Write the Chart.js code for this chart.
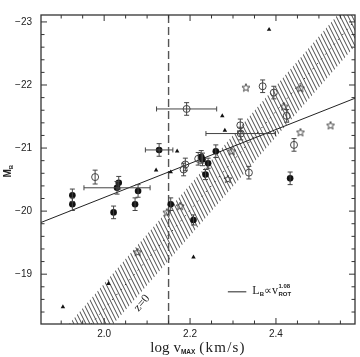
<!DOCTYPE html>
<html>
<head>
<meta charset="utf-8">
<script src="https://cdn.jsdelivr.net/npm/chart.js@4.4.1/dist/chart.umd.min.js"></script>
<style>
  html, body { margin: 0; padding: 0; background: #fff; }
  #wrap { width: 360px; height: 357px; }
</style>
</head>
<body>
<div id="wrap"><canvas id="c"></canvas></div>
<script>
// filled circles (with error bars)
const filledX = [1.926, 1.926, 2.022, 2.034, 2.030, 2.079, 2.072, 2.128, 2.155, 2.208, 2.226, 2.229, 2.242, 2.236, 2.260, 2.433];
const filledY = [-20.25, -20.11, -19.98, -20.45, -20.37, -20.32, -20.11, -20.97, -20.11, -19.86, -20.86, -20.82, -20.76, -20.58, -20.95, -20.52];
const filledYErr = [0.10, 0.10, 0.10, 0.10, 0.10, 0.10, 0.10, 0.10, 0.10, 0.08, 0.10, 0.10, 0.08, 0.08, 0.10, 0.10];
const filledXErr = [0, 0, 0, 0, 0.077, 0, 0, 0.032, 0, 0, 0, 0, 0, 0, 0, 0];

// open circles (with error bars)
const openX = [1.979, 2.189, 2.185, 2.219, 2.317, 2.318, 2.337, 2.442, 2.369, 2.395, 2.425, 2.192];
const openY = [-20.54, -20.74, -20.66, -20.83, -21.36, -21.23, -20.61, -21.05, -21.98, -21.88, -21.51, -21.62];
const openYErr = [0.11, 0.10, 0.10, 0.10, 0.10, 0.10, 0.10, 0.10, 0.10, 0.10, 0.10, 0.10];
const openXErr = [0, 0, 0, 0, 0, 0.081, 0, 0, 0, 0, 0, 0.07];

// small triangles
const triX = [1.904, 2.010, 2.208, 2.121, 2.170, 2.155, 2.281, 2.275, 2.384];
const triY = [-18.48, -18.85, -19.27, -20.65, -20.95, -20.62, -21.28, -21.51, -22.88];

// open stars
const starX = [2.330, 2.419, 2.457, 2.457, 2.527, 2.297, 2.288, 2.146, 2.177, 2.078];
const starY = [-21.96, -21.66, -21.95, -21.25, -21.36, -20.95, -20.51, -19.98, -20.08, -19.35];

// L_B ~ v^1.08 fit
const fitX = [1.853, 2.584];
const fitY = [-19.82, -21.79];

// z=0 relation band
const bandX = [1.85, 2.60];
const bandMid = [-17.27, -23.15];
const bandHalf = 0.405;

const zLine = 2.15;

const xTicks = [2.0, 2.2, 2.4];
const yTicks = [-23, -22, -21, -20, -19];

const xMin = 1.853, xMax = 2.584;
const yMin = -23.11, yMax = -18.21;

const canvas = document.getElementById("c");
const ctx0 = canvas.getContext("2d");

function pts(xs, ys) {
  return xs.map((x, i) => ({ x: x, y: ys[i] }));
}

// hatch pattern for the band
function makeHatch() {
  const c = document.createElement("canvas");
  c.width = 4; c.height = 8;
  const g = c.getContext("2d");
  g.strokeStyle = "#4a4a4a";
  g.lineWidth = 1;
  g.beginPath();
  for (let k = -1; k <= 1; k++) {
    g.moveTo(k * 4, 0);
    g.lineTo(k * 4 + 4, 8);
  }
  g.stroke();
  return ctx0.createPattern(c, "repeat");
}

// open five-pointed star marker
function makeStar() {
  const c = document.createElement("canvas");
  c.width = 10; c.height = 10;
  const g = c.getContext("2d");
  g.strokeStyle = "#333";
  g.lineWidth = 0.9;
  g.beginPath();
  for (let i = 0; i < 10; i++) {
    const r = i % 2 === 0 ? 4.2 : 1.8;
    const a = -Math.PI / 2 + i * Math.PI / 5;
    const px = 5 + r * Math.cos(a), py = 5.3 + r * Math.sin(a);
    if (i === 0) g.moveTo(px, py); else g.lineTo(px, py);
  }
  g.closePath();
  g.stroke();
  return c;
}

// draws [text, font, dy, gapAfter] pieces one after another, returns end x
function drawRich(ctx, x, y, parts) {
  let cx = x;
  parts.forEach(([t, f, dy, gap]) => {
    ctx.font = f;
    ctx.fillText(t, cx, y + dy);
    cx += ctx.measureText(t).width + (gap || 0);
  });
  return cx;
}

function richWidth(ctx, parts) {
  let w = 0;
  parts.forEach(([t, f, dy, gap]) => {
    ctx.font = f;
    w += ctx.measureText(t).width + (gap || 0);
  });
  return w;
}

const errorBars = {
  id: "errorBars",
  afterDatasetsDraw(chart) {
    const { ctx, scales: { x, y } } = chart;
    ctx.save();
    ctx.strokeStyle = "#444";
    ctx.lineWidth = 1;
    const cap = 2.5;
    const draw = (xs, ys, yerr, xerr) => {
      xs.forEach((v, i) => {
        const px = x.getPixelForValue(v), py = y.getPixelForValue(ys[i]);
        const y1 = y.getPixelForValue(ys[i] - yerr[i]), y2 = y.getPixelForValue(ys[i] + yerr[i]);
        ctx.beginPath();
        ctx.moveTo(px, y1); ctx.lineTo(px, y2);
        ctx.moveTo(px - cap, y1); ctx.lineTo(px + cap, y1);
        ctx.moveTo(px - cap, y2); ctx.lineTo(px + cap, y2);
        if (xerr[i] > 0) {
          const x1 = x.getPixelForValue(v - xerr[i]), x2 = x.getPixelForValue(v + xerr[i]);
          ctx.moveTo(x1, py); ctx.lineTo(x2, py);
          ctx.moveTo(x1, py - cap); ctx.lineTo(x1, py + cap);
          ctx.moveTo(x2, py - cap); ctx.lineTo(x2, py + cap);
        }
        ctx.stroke();
      });
    };
    draw(filledX, filledY, filledYErr, filledXErr);
    draw(openX, openY, openYErr, openXErr);
    ctx.restore();
  }
};

const frame = {
  id: "frame",
  afterDraw(chart) {
    const { ctx, chartArea: a, scales: { x, y } } = chart;
    ctx.save();
    ctx.strokeStyle = "#333";
    ctx.lineWidth = 1.3;
    ctx.strokeRect(a.left, a.top, a.right - a.left, a.bottom - a.top);
    ctx.lineWidth = 1;
    ctx.beginPath();
    for (let i = 38; i <= 51; i++) {
      const px = x.getPixelForValue(i * 0.05);
      const len = i % 4 === 0 ? 6 : 3.5;
      ctx.moveTo(px, a.bottom); ctx.lineTo(px, a.bottom - len);
      ctx.moveTo(px, a.top); ctx.lineTo(px, a.top + len);
    }
    for (let i = -115; i <= -92; i++) {
      const py = y.getPixelForValue(i * 0.2);
      const len = i % 5 === 0 ? 6 : 3.5;
      ctx.moveTo(a.left, py); ctx.lineTo(a.left + len, py);
      ctx.moveTo(a.right, py); ctx.lineTo(a.right - len, py);
    }
    ctx.stroke();

    ctx.fillStyle = "#222";
    ctx.textBaseline = "alphabetic";

    // x title
    const serif = "15px 'Liberation Serif'";
    const sub = "bold 6.5px 'Liberation Sans'";
    const title = [
      ["log", serif, 0, 4],
      ["v", serif, 0, 0],
      ["MAX", sub, 2, 4],
    ];
    const unit = "(km/s)";
    ctx.font = serif;
    ctx.letterSpacing = "1.2px";
    const unitW = ctx.measureText(unit).width;
    ctx.letterSpacing = "0px";
    const totalW = richWidth(ctx, title) + unitW;
    const cx = (a.left + a.right) / 2;
    const by = a.bottom + 28;
    const ex = drawRich(ctx, cx - totalW / 2, by, title);
    ctx.font = serif;
    ctx.letterSpacing = "1.2px";
    ctx.fillText(unit, ex, by);
    ctx.letterSpacing = "0px";

    // y title
    ctx.save();
    ctx.translate(11, (a.top + a.bottom) / 2 + 8);
    ctx.rotate(-Math.PI / 2);
    drawRich(ctx, 0, 0, [
      ["M", "bold 10px 'Liberation Sans'", 0],
      ["B", "bold 6px 'Liberation Sans'", 2],
    ]);
    ctx.restore();

    // z=0 label along band
    ctx.save();
    ctx.translate(x.getPixelForValue(2.088), y.getPixelForValue(-18.54));
    ctx.rotate(-0.86);
    ctx.font = "12px 'Liberation Serif'";
    ctx.textAlign = "center";
    ctx.textBaseline = "middle";
    ctx.fillText("z=0", 0, 0);
    ctx.restore();

    // legend
    const ly = y.getPixelForValue(-18.72);
    ctx.beginPath();
    ctx.lineWidth = 1;
    ctx.strokeStyle = "#222";
    ctx.moveTo(x.getPixelForValue(2.288), ly);
    ctx.lineTo(x.getPixelForValue(2.331), ly);
    ctx.stroke();
    const vx = drawRich(ctx, x.getPixelForValue(2.345), ly + 2.5, [
      ["L", "12px 'Liberation Serif'", 0],
      ["B", "bold 6px 'Liberation Sans'", 2],
      ["\u221D", "11px 'Liberation Serif'", 0],
      ["v", "12px 'Liberation Serif'", 0],
    ]);
    drawRich(ctx, vx + 0.5, ly - 3.5, [["1.08", "bold 6px 'Liberation Sans'", 0]]);
    drawRich(ctx, vx + 0.5, ly + 4.5, [["ROT", "bold 6px 'Liberation Sans'", 0]]);
    ctx.restore();
  }
};

new Chart(canvas, {
  type: "scatter",
  data: {
    datasets: [
      {
        data: pts(filledX, filledY),
        pointStyle: "circle",
        pointRadius: 3.3,
        backgroundColor: "#111",
        borderColor: "#111",
        borderWidth: 0,
      },
      {
        data: pts(openX, openY),
        pointStyle: "circle",
        pointRadius: 3.5,
        backgroundColor: "rgba(0,0,0,0)",
        borderColor: "#444",
        borderWidth: 1,
      },
      {
        data: pts(triX, triY),
        pointStyle: "triangle",
        pointRadius: 2.6,
        backgroundColor: "#111",
        borderColor: "#111",
        borderWidth: 0,
      },
      {
        data: pts(starX, starY),
        pointStyle: makeStar(),
      },
      {
        type: "line",
        data: pts(fitX, fitY),
        borderColor: "#222",
        borderWidth: 1,
        pointRadius: 0,
        fill: false,
      },
      {
        type: "line",
        data: [{ x: zLine, y: yMin }, { x: zLine, y: yMax }],
        borderColor: "#555",
        borderWidth: 1.4,
        borderDash: [8, 4],
        pointRadius: 0,
        fill: false,
      },
      {
        type: "line",
        data: pts(bandX, bandMid),
        borderColor: "#333",
        borderWidth: 1,
        borderDash: [1.5, 5],
        pointRadius: 0,
        fill: false,
      },
      {
        type: "line",
        data: pts(bandX, bandMid.map(v => v - bandHalf)),
        borderWidth: 0,
        borderColor: "rgba(0,0,0,0)",
        pointRadius: 0,
        backgroundColor: makeHatch(),
        fill: "+1",
      },
      {
        type: "line",
        data: pts(bandX, bandMid.map(v => v + bandHalf)),
        borderWidth: 0,
        borderColor: "rgba(0,0,0,0)",
        pointRadius: 0,
        fill: false,
      },
    ],
  },
  options: {
    responsive: true,
    maintainAspectRatio: false,
    animation: false,
    devicePixelRatio: 1,
    layout: { padding: { top: 9, right: 5, left: 0, bottom: 0 } },
    plugins: {
      legend: { display: false },
      tooltip: { enabled: false },
    },
    scales: {
      x: {
        type: "linear",
        min: xMin,
        max: xMax,
        grid: { display: false, drawTicks: false },
        border: { display: false },
        afterBuildTicks: s => { s.ticks = xTicks.map(v => ({ value: v })); },
        afterFit: s => { s.height = 33; },
        ticks: {
          padding: 4,
          color: "#222",
          font: { family: "Liberation Sans", size: 10 },
          callback: v => v.toFixed(1),
        },
      },
      y: {
        type: "linear",
        reverse: true,
        min: yMin,
        max: yMax,
        grid: { display: false, drawTicks: false },
        border: { display: false },
        afterBuildTicks: s => { s.ticks = yTicks.map(v => ({ value: v })); },
        afterFit: s => { s.width = 41; },
        ticks: {
          padding: 9,
          color: "#222",
          font: { family: "Liberation Sans", size: 10 },
          callback: v => "\u2212" + Math.abs(v),
        },
      },
    },
  },
  plugins: [errorBars, frame],
});
</script>
</body>
</html>
